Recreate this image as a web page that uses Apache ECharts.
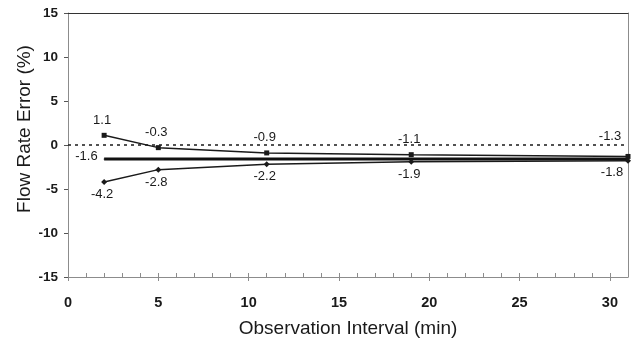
<!DOCTYPE html>
<html>
<head>
<meta charset="utf-8">
<script src="https://cdn.jsdelivr.net/npm/echarts@6/dist/echarts.min.js"></script>
<style>
html,body{margin:0;padding:0;background:#fff;}
#chart{width:634px;height:339px;}
</style>
</head>
<body>
<div id="chart"></div>
<script>
// ---- data ----
var intervals = [2, 5, 11, 19, 31];
var upperErrors = [1.1, -0.3, -0.9, -1.1, -1.3];
var lowerErrors = [-4.2, -2.8, -2.2, -1.9, -1.8];
var meanX = [2, 31];
var meanError = [-1.6, -1.6];
var zeroX = [0, 31];
var zeroLine = [0, 0];
var xTickLabels = [0, 5, 10, 15, 20, 25, 30];
var xMinorTicks = [1, 2, 3, 4, 6, 7, 8, 9, 11, 12, 13, 14, 16, 17, 18, 19, 21, 22, 23, 24, 26, 27, 28, 29];
var yTickLabels = [-15, -10, -5, 0, 5, 10, 15];

var FONT = 'Liberation Sans, Arial, sans-serif';
var INK = '#1a1a1a';
var AXIS_GRAY = '#8c8c8c';

function pairs(xs, ys) { return xs.map(function (x, i) { return [x, ys[i]]; }); }
function fmt(d) { return d.value[1].toFixed(1); }

var upperData = pairs(intervals, upperErrors).map(function (p, i, arr) {
  var item = { value: p };
  if (i === arr.length - 1) item.label = { offset: [-18, -5] };
  return item;
});
var lowerData = pairs(intervals, lowerErrors).map(function (p, i, arr) {
  var item = { value: p };
  if (i === arr.length - 1) item.label = { offset: [-16, -1] };
  return item;
});
var meanData = pairs(meanX, meanError).map(function (p, i) {
  var item = { value: p };
  item.label = { show: i === 0 };
  return item;
});

var chart = echarts.init(document.getElementById('chart'), null, { renderer: 'canvas' });
chart.setOption({
  animation: false,
  backgroundColor: '#fff',
  textStyle: { fontFamily: FONT },
  grid: { left: 68, right: 6, top: 13, bottom: 62, containLabel: false, outerBoundsMode: 'none' },
  xAxis: [
    {
      type: 'value', min: 0, max: 31, position: 'bottom', offset: 0,
      name: 'Observation Interval (min)', nameLocation: 'middle', nameGap: 42, nameMoveOverlap: false,
      nameTextStyle: { fontFamily: FONT, fontSize: 19, color: INK },
      axisLine: { show: true, onZero: false, lineStyle: { color: AXIS_GRAY, width: 1 } },
      axisTick: { show: true, inside: false, length: 4, customValues: xTickLabels, lineStyle: { color: AXIS_GRAY } },
      axisLabel: { show: true, customValues: xTickLabels, margin: 18, fontFamily: FONT, fontSize: 14.5, fontWeight: 'bold', color: INK },
      splitLine: { show: false }
    },
    {
      type: 'value', min: 0, max: 31, position: 'bottom', offset: 0,
      axisLine: { show: false, onZero: false },
      axisTick: { show: true, inside: true, length: 4, customValues: xMinorTicks.concat(xTickLabels.slice(1)), lineStyle: { color: AXIS_GRAY } },
      axisLabel: { show: false },
      splitLine: { show: false }
    },
    {
      type: 'value', min: 0, max: 31, position: 'top', offset: 0,
      axisLine: { show: true, onZero: false, lineStyle: { color: '#333', width: 1 } },
      axisTick: { show: false }, axisLabel: { show: false }, splitLine: { show: false }
    }
  ],
  yAxis: [
    {
      type: 'value', min: -15, max: 15, interval: 5, position: 'left',
      name: 'Flow Rate Error (%)', nameLocation: 'middle', nameGap: 34, nameMoveOverlap: false,
      nameTextStyle: { fontFamily: FONT, fontSize: 19, color: INK, padding: [0, 0, 0, 32] },
      axisLine: { show: true, onZero: false, lineStyle: { color: AXIS_GRAY, width: 1 } },
      axisTick: { show: true, inside: false, length: 4, customValues: yTickLabels, lineStyle: { color: '#555' } },
      axisLabel: { show: true, customValues: yTickLabels, margin: 10, fontFamily: FONT, fontSize: 13.5, fontWeight: 'bold', color: INK },
      splitLine: { show: false }
    },
    {
      type: 'value', min: -15, max: 15, position: 'right',
      axisLine: { show: true, onZero: false, lineStyle: { color: AXIS_GRAY, width: 1 } },
      axisTick: { show: false }, axisLabel: { show: false }, splitLine: { show: false }
    }
  ],
  series: [
    {
      name: 'zero', type: 'line', xAxisIndex: 0, yAxisIndex: 0,
      data: pairs(zeroX, zeroLine), symbol: 'none', silent: true,
      lineStyle: { color: INK, width: 1.3, type: [3, 4] }
    },
    {
      name: 'mean', type: 'line', xAxisIndex: 0, yAxisIndex: 0,
      data: meanData, symbol: 'circle', symbolSize: 1, showSymbol: true, silent: true,
      itemStyle: { color: '#111' },
      lineStyle: { color: '#111', width: 3 },
      label: { show: true, position: 'left', distance: 6, offset: [0, -3], fontFamily: FONT, fontSize: 13, color: INK, formatter: fmt }
    },
    {
      name: 'upper', type: 'line', xAxisIndex: 0, yAxisIndex: 0,
      data: upperData, symbol: 'rect', symbolSize: 5,
      itemStyle: { color: INK }, lineStyle: { color: INK, width: 1.5 },
      label: { show: true, position: 'top', distance: 6, offset: [-2, 0], fontFamily: FONT, fontSize: 13, color: INK, formatter: fmt }
    },
    {
      name: 'lower', type: 'line', xAxisIndex: 0, yAxisIndex: 0,
      data: lowerData, symbol: 'diamond', symbolSize: 6,
      itemStyle: { color: INK }, lineStyle: { color: INK, width: 1.5 },
      label: { show: true, position: 'bottom', distance: 3, offset: [-2, 0], fontFamily: FONT, fontSize: 13, color: INK, formatter: fmt }
    }
  ]
});
</script>
</body>
</html>
